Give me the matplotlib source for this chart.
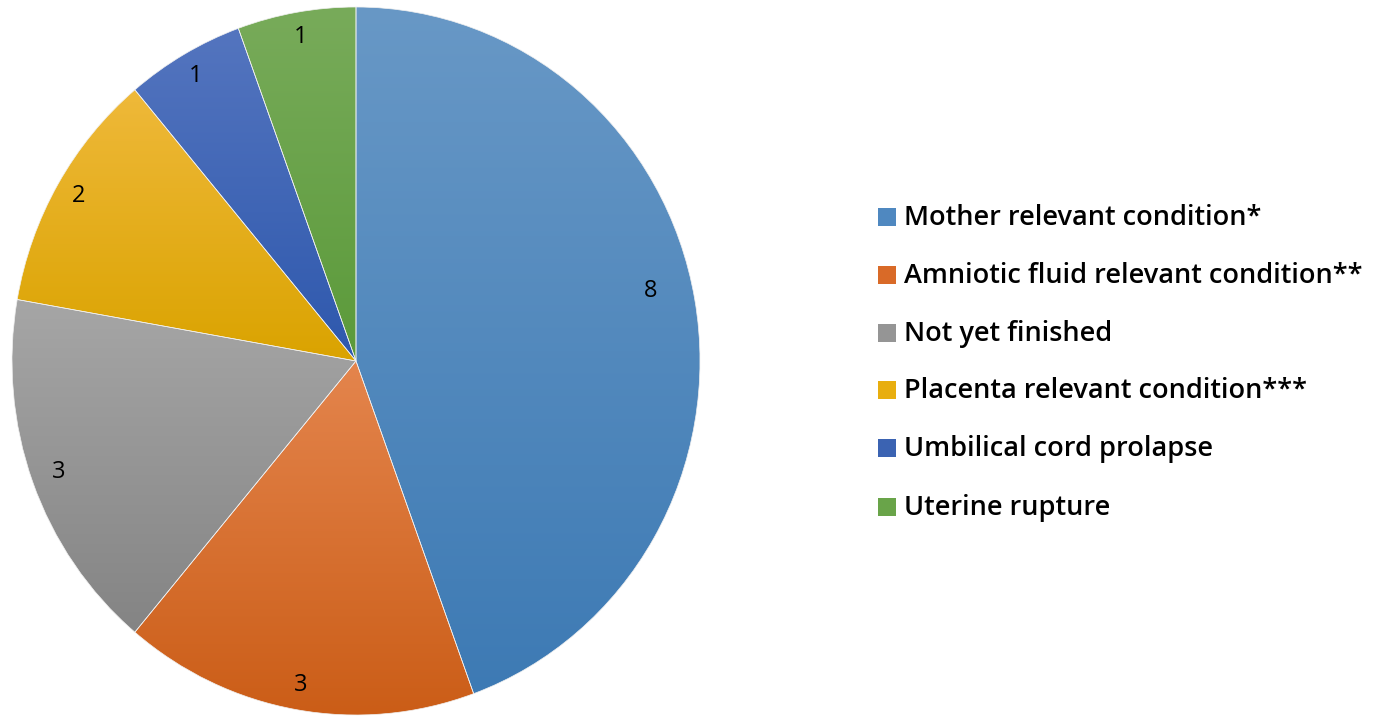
import numpy as np
import matplotlib
matplotlib.use("Agg")
import matplotlib.pyplot as plt
from matplotlib.colors import LinearSegmentedColormap
from matplotlib.patches import Rectangle

categories = [
    "Mother relevant condition*",
    "Amniotic fluid relevant condition**",
    "Not yet finished",
    "Placenta relevant condition***",
    "Umbilical cord prolapse",
    "Uterine rupture",
]
counts = [8, 3, 3, 2, 1, 1]

# light (top) and dark (bottom) shade of each slice's gradient fill
top_colors = ["#6898c6", "#e4854d", "#a6a6a6", "#efb93a", "#5475bf", "#78ab5a"]
bottom_colors = ["#3d7ab4", "#cb5d17", "#848484", "#daa300", "#2e58ad", "#5b9a3a"]
legend_colors = ["#4f88c0", "#d96a28", "#959595", "#e8ae0f", "#3b63b2", "#69a449"]
label_radius = [0.88, 0.93, 0.92, 0.93, 0.93, 0.93]
label_shift_deg = [3, 0, 0, 0, 0, 0]

W, H = 1373, 717
fig = plt.figure(figsize=(W / 100, H / 100), dpi=100)
left, top, pw, ph = 12, 7, 688, 708
ax = fig.add_axes([left / W, (H - top - ph) / H, pw / W, ph / H])
ax.axis("off")

wedges, _ = ax.pie(counts, startangle=90, counterclock=False, radius=1,
                   wedgeprops=dict(linewidth=0.5, edgecolor="#f0f0f0"))
ax.set_aspect("auto")

for w, c0, c1, n, rl, sh in zip(wedges, top_colors, bottom_colors, counts,
                                label_radius, label_shift_deg):
    ext = w.get_path().get_extents()
    cmap = LinearSegmentedColormap.from_list("g", [c1, c0])
    grad = np.linspace(0, 1, 256).reshape(-1, 1)
    w.set_facecolor("none")
    im = ax.imshow(grad, cmap=cmap, origin="lower", aspect="auto",
                   extent=[ext.x0, ext.x1, ext.y0, ext.y1], zorder=0.5,
                   interpolation="bilinear")
    im.set_clip_path(w)
    ang = np.deg2rad((w.theta1 + w.theta2) / 2 + sh)
    ax.text(rl * np.cos(ang), rl * np.sin(ang), str(n), ha="center", va="center",
            fontsize=17, family="Open Sans", color="black", zorder=3)

ax.set_xlim(-1, 1)
ax.set_ylim(-1, 1)
ax.set_aspect("auto")

# legend drawn as colour squares with text rows
row_y = [217, 275, 333, 390, 448, 507]
for lab, col, yy in zip(categories, legend_colors, row_y):
    fig.patches.append(Rectangle((878 / W, (H - yy - 9) / H), 18 / W, 18 / H,
                                 transform=fig.transFigure, facecolor=col,
                                 edgecolor="none"))
    fig.text(904 / W, (H - yy - 1) / H, lab, ha="left", va="center",
             fontsize=19.5, family="Open Sans", weight=600, color="black")

fig.savefig("out.png", dpi=100, facecolor="white")
